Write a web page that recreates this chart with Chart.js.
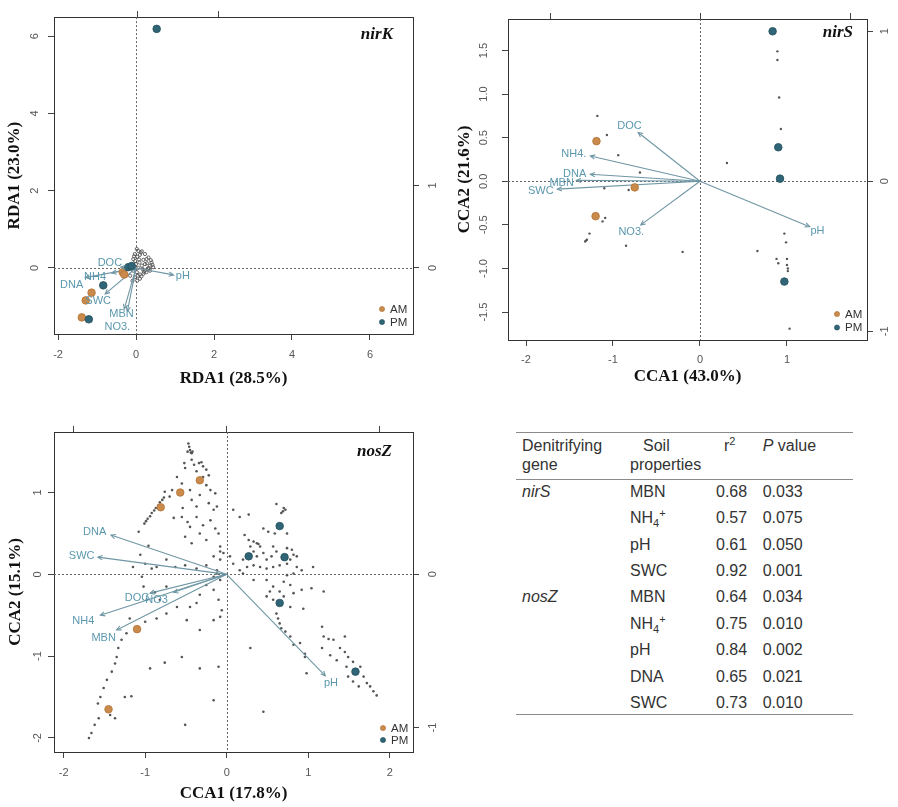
<!DOCTYPE html>
<html><head><meta charset="utf-8">
<script src="https://cdn.jsdelivr.net/npm/chart.js@4.4.0/dist/chart.umd.min.js"></script>
<style>
html,body{margin:0;padding:0;background:#fff;}
#wrap{position:relative;width:898px;height:807px;overflow:hidden;font-family:"Liberation Sans",Arial,sans-serif;background:#fff;}
canvas{position:absolute;}
.t{position:absolute;font-size:16px;line-height:20px;color:#333;white-space:nowrap;}
.t sub,.t sup{font-size:11px;line-height:0;}
.hl{position:absolute;left:516px;width:337px;height:0;border-top:1.5px solid #8a8a8a;}
</style></head>
<body><div id="wrap">
<canvas id="c1" width="450" height="400" style="left:0;top:0"></canvas>
<canvas id="c2" width="448" height="400" style="left:450px;top:0"></canvas>
<canvas id="c3" width="450" height="407" style="left:0;top:400px"></canvas>
<div id="tbl"></div>
</div>
<script>
// ---------------- nirK (RDA) ----------------
const nirK_species = [[-0.03,0.36],[0.06,0.44],[0.15,0.43],[0.23,0.36],[0.32,0.27],[0.40,0.14],[0.44,0.02],[0.36,-0.07],[0.27,-0.11],[0.19,-0.15],[0.10,-0.17],[0.02,-0.11],[-0.07,-0.07],[-0.11,0.10],[-0.07,0.23],[0.00,0.10],[0.09,0.14],[0.15,0.06],[0.23,0.10],[0.17,-0.03],[0.06,0.00],[-0.03,-0.24],[0.03,-0.33],[0.10,-0.28],[-0.09,-0.33],[-0.15,-0.20],[0.02,0.49],[0.27,0.23],[0.36,0.06],[0.19,0.21],[0.03,0.29],[0.10,0.34],[0.32,0.00],[0.23,-0.07],[0.42,0.08],[0.38,0.20],[0.12,0.40],[-0.05,0.30],[0.30,-0.02],[0.05,-0.20],[0.14,-0.22],[0.20,-0.10],[0.08,0.22],[0.28,0.12],[-0.02,0.18]];
const nirK_AM = [[-0.34,-0.11],[-0.30,-0.17],[-1.14,-0.64],[-1.29,-0.84],[-1.39,-1.28]];
const nirK_PM = [[0.53,6.19],[-0.20,0.02],[-0.11,0.05],[-0.84,-0.45],[-1.21,-1.33]];
const nirK_vars   = ['DOC','NH4','DNA','SWC','MBN','NO3.','pH'];
const nirK_arrowX = [-0.39,-0.62,-1.30,-0.79,-0.30,-0.22,0.96];
const nirK_arrowY = [0.02,-0.13,-0.25,-0.67,-1.06,-1.12,-0.18];
const nirK_labelX = [-0.67,-1.05,-1.65,-0.97,-0.37,-0.48,1.20];
const nirK_labelY = [0.14,-0.23,-0.44,-0.86,-1.18,-1.52,-0.20];
const nirK_xTicks = [-2,0,2,4,6];
const nirK_yTicks = [0,2,4,6];
const nirK_topTicks = [0,1];
const nirK_rightTicks = [0,1];

// ---------------- nirS (CCA) ----------------
const nirS_species = [[-1.18,0.75],[-1.07,0.53],[-0.94,0.30],[-0.69,0.10],[-1.10,-0.08],[-0.82,-0.10],[-1.12,-0.46],[-1.09,-0.42],[-1.27,-0.60],[-1.31,-0.68],[-1.32,-0.69],[-1.30,-0.67],[-0.85,-0.74],[-0.20,-0.81],[0.31,0.21],[0.89,1.49],[0.89,1.39],[0.91,0.96],[0.93,0.60],[0.95,0.03],[0.97,-0.60],[0.99,-0.70],[0.66,-0.80],[0.88,-0.89],[0.90,-0.94],[1.00,-0.89],[1.00,-0.96],[1.01,-1.00],[1.01,-1.03],[0.99,-1.14],[1.03,-1.69]];
const nirS_AM = [[-1.19,0.46],[-0.75,-0.07],[-1.20,-0.40]];
const nirS_PM = [[0.835,1.72],[0.90,0.39],[0.92,0.03],[0.97,-1.15]];
const nirS_vars   = ['DOC','NH4.','DNA','MBN','SWC','NO3.','pH'];
const nirS_arrowX = [-0.71,-1.26,-1.26,-1.42,-1.64,-0.68,1.26];
const nirS_arrowY = [0.56,0.29,0.08,0.01,-0.09,-0.50,-0.52];
const nirS_labelX = [-0.81,-1.45,-1.44,-1.59,-1.83,-0.79,1.35];
const nirS_labelY = [0.63,0.31,0.08,-0.02,-0.11,-0.58,-0.57];
const nirS_xTicks = [-2,-1,0,1];
const nirS_yTicks = [-1.5,-1.0,-0.5,0.0,0.5,1.0,1.5];
const nirS_topTicks = [-1,0,1];
const nirS_rightTicks = [-1,0,1];

// ---------------- nosZ (CCA) ----------------
const nosZ_species = [[-0.47,1.60],[-0.46,1.56],[-0.45,1.52],[-0.44,1.49],[-0.43,1.48],[-0.48,1.50],[-0.42,1.50],[-0.52,1.36],[-0.43,1.40],[-0.40,1.34],[-0.34,1.36],[-0.31,1.37],[-0.29,1.32],[-0.51,1.30],[-0.25,1.28],[-0.37,1.26],[-0.29,1.19],[-0.22,1.21],[-0.61,1.19],[-0.67,1.03],[-0.76,1.01],[-0.70,0.95],[-0.25,1.09],[-0.20,1.03],[-0.14,0.99],[-0.55,1.11],[-0.45,1.03],[-0.43,0.91],[-0.33,0.97],[-0.22,0.87],[-0.16,0.79],[-0.12,0.83],[-0.37,0.83],[-0.54,0.81],[-0.65,0.69],[-0.55,0.70],[-0.48,0.64],[-0.45,0.58],[-0.37,0.70],[-0.29,0.60],[-0.20,0.66],[-0.14,0.56],[-0.10,0.50],[-0.33,0.50],[-0.25,0.42],[-0.51,0.46],[-0.43,0.38],
[-0.77,0.94],[-0.79,0.91],[-0.82,0.88],[-0.84,0.84],[-0.87,0.81],[-0.89,0.78],[-0.92,0.75],[-0.94,0.71],[-0.97,0.68],[-0.99,0.65],[-1.01,0.62],
[-1.08,0.52],[-0.96,0.35],[-1.06,0.24],[-1.00,0.13],[-1.15,0.09],[-0.92,0.07],[-0.86,0.09],[-0.74,0.18],[-0.63,0.09],[-0.51,0.11],[-0.37,0.07],[-0.25,0.11],[-0.16,0.22],[-0.08,0.28],[-0.08,0.18],[-0.12,0.05],[-0.08,-0.07],[-0.16,-0.19],[-0.25,-0.13],[-0.33,-0.25],[-0.37,-0.35],[-0.45,-0.40],[-0.10,-0.31],[-0.06,-0.44],[-0.08,-0.52],[-0.16,-0.56],[-0.33,-0.68],[-0.49,-0.56],[-0.61,-0.40],[-0.74,-0.48],[-0.86,-0.54],[-0.98,-0.31],[-1.02,-0.15],[-1.04,-0.03],[-1.19,-0.54],[-1.23,-0.72],[-1.29,-0.80],[-1.33,-0.90],[-1.35,-1.01],[-1.37,-1.09],[-1.41,-1.19],[-1.47,-1.29],[-1.51,-1.39],[-1.55,-1.50],[-1.58,-1.58],[-1.57,-1.76],[-1.62,-1.84],[-1.66,-1.94],[-1.69,-2.00],[-1.43,-1.72],[-1.37,-1.76],[-1.25,-1.50],[-1.17,-1.49],[-0.94,-1.15],[-0.76,-1.08],[-0.55,-1.01],[-0.33,-1.15],[-0.10,-1.13],[-0.16,-1.54],[-0.51,-1.84],[-1.00,-0.58],[-0.82,-0.31],[-0.74,-0.15],[-0.88,-0.22],
[0.61,0.86],[0.69,0.77],[0.72,0.79],[0.70,0.81],[0.67,0.75],[0.16,0.70],[0.27,0.73],[0.45,0.56],[0.51,0.52],[0.59,0.50],[0.74,0.50],[0.08,0.79],[0.22,0.48],[0.27,0.42],[0.33,0.40],[0.37,0.38],[0.41,0.34],[0.29,0.34],[0.33,0.28],[0.37,0.22],[0.45,0.26],[0.49,0.18],[0.55,0.22],[0.61,0.28],[0.57,0.34],[0.74,0.32],[0.80,0.30],[0.82,0.24],[0.86,0.22],[0.78,0.18],[0.74,0.13],[0.65,0.11],[0.57,0.09],[0.49,0.07],[0.41,0.09],[0.33,0.11],[0.25,0.09],[0.16,0.05],[0.08,0.13],[0.04,0.22],[-0.04,0.26],[-0.08,0.34],[0.20,0.18],[0.86,0.09],[0.92,0.05],[1.06,0.09],[0.82,0.01],[0.74,-0.01],[0.20,0.01],[0.33,-0.07],[0.49,-0.07],[0.57,-0.15],[0.70,-0.09],[0.78,-0.13],[0.65,-0.21],[0.53,-0.21],[0.49,-0.27],[0.57,-0.31],[0.70,-0.27],[0.82,-0.23],[0.92,-0.19],[1.04,-0.17],[1.19,-0.21],[0.78,-0.40],[0.94,-0.42],[0.61,-0.48],[0.63,-0.54],[0.65,-0.60],[0.67,-0.66],[0.72,-0.70],[0.78,-0.76],[0.82,-0.86],[0.90,-0.84],[0.96,-0.97],[1.17,-0.64],[1.19,-0.76],[1.25,-0.79],[1.31,-0.80],[1.45,-0.76],[1.39,-0.90],[1.45,-0.95],[1.49,-1.01],[1.55,-1.07],[1.64,-1.13],[1.68,-1.25],[1.72,-1.33],[1.76,-1.37],[1.80,-1.43],[1.84,-1.48],[1.17,-0.90],[1.27,-0.99],[1.35,-1.05],[1.47,-1.13],[1.49,-1.25],[1.55,-1.31],[1.62,-1.37],[0.98,-1.21],[0.96,-1.01],[0.29,-0.90],[0.45,-1.68],[0.39,0.37],[-0.16,-0.03],[-0.12,0.01]];
const nosZ_AM = [[-0.33,1.15],[-0.57,1.00],[-0.81,0.82],[-1.10,-0.67],[-1.45,-1.65]];
const nosZ_PM = [[0.65,0.59],[0.27,0.22],[0.71,0.21],[0.65,-0.35],[1.58,-1.19]];
const nosZ_vars   = ['DNA','SWC','DOC','NO3','NH4','MBN','pH'];
const nosZ_arrowX = [-1.42,-1.58,-0.94,-0.65,-1.55,-1.35,1.21];
const nosZ_arrowY = [0.48,0.21,-0.23,-0.22,-0.50,-0.68,-1.24];
const nosZ_labelX = [-1.62,-1.78,-1.10,-0.86,-1.76,-1.51,1.28];
const nosZ_labelY = [0.52,0.22,-0.29,-0.31,-0.57,-0.78,-1.33];
const nosZ_xTicks = [-2,-1,0,1,2];
const nosZ_yTicks = [-2,-1,0,1];
const nosZ_topTicks = [-1,0,1];
const nosZ_rightTicks = [-1,0];

// ---------------- table ----------------
const tableHeader = ['Denitrifying gene','Soil properties','r2','P value'];
const tableGene = ['nirS','','','','nosZ','','','',''];
const tableProp = ['MBN','NH4+','pH','SWC','MBN','NH4+','pH','DNA','SWC'];
const tableR2   = ['0.68','0.57','0.61','0.92','0.64','0.75','0.84','0.65','0.73'];
const tableP    = ['0.033','0.075','0.050','0.001','0.034','0.010','0.002','0.021','0.010'];

// ---------------- styles ----------------
const SANS = '"Liberation Sans", Arial, sans-serif';
const SERIF = '"Liberation Serif", "Times New Roman", serif';
const AM_FILL = '#c98a4c', AM_LINE = '#b27437';
const PM_FILL = '#2f6577', PM_LINE = '#24505e';
const ARROW = '#6f96a4', LABEL = '#5b98ae';
Chart.defaults.font.family = SANS;

const toPts = a => a.map(p => ({x:p[0], y:p[1]}));

function panel(id, o) {
  const canvas = document.getElementById(id);
  const W = canvas.width, H = canvas.height, b = o.box;
  const tickFont = {family:SANS, size:11};
  const titleFont = {family:SERIF, size:17, weight:'bold'};
  const grid = {display:true, drawOnChartArea:false, drawTicks:true, tickLength:6, tickColor:'#444', color:'#444'};
  const border = {display:true, color:'#333', width:1};
  const setTicks = arr => s => { s.ticks = arr.map(v => ({value:v})); };
  const fmt = o.yFmt || (v => String(v));

  const datasets = [];
  datasets.push({label:'species', data:toPts(o.species), xAxisID:'x', yAxisID:'y', order:3,
    pointRadius:o.spRadius, pointBackgroundColor:o.spFill, pointBorderColor:'#555', pointBorderWidth:o.spBorder});
  o.arrowX.forEach((ax, i) => {
    datasets.push({label:o.vars[i], data:[{x:0,y:0},{x:ax,y:o.arrowY[i]}], xAxisID:'x', yAxisID:'y', order:2,
      showLine:true, borderColor:ARROW, borderWidth:1.1, pointRadius:0, fill:false});
  });
  datasets.push({label:'AM', data:toPts(o.am), xAxisID:'x', yAxisID:'y', order:1,
    pointRadius:3.8, pointBackgroundColor:AM_FILL, pointBorderColor:AM_LINE, pointBorderWidth:0.8});
  datasets.push({label:'PM', data:toPts(o.pm), xAxisID:'x', yAxisID:'y', order:0,
    pointRadius:3.8, pointBackgroundColor:PM_FILL, pointBorderColor:PM_LINE, pointBorderWidth:0.8});

  const deco = {
    id:'deco_' + id,
    beforeDatasetsDraw(chart) {
      const {ctx, chartArea:a, scales:{x, y}} = chart;
      ctx.save();
      ctx.strokeStyle = '#666'; ctx.lineWidth = 1; ctx.setLineDash([2,2]);
      const px = Math.round(x.getPixelForValue(0)) + 0.5, py = Math.round(y.getPixelForValue(0)) + 0.5;
      ctx.beginPath(); ctx.moveTo(px, a.top); ctx.lineTo(px, a.bottom);
      ctx.moveTo(a.left, py); ctx.lineTo(a.right, py); ctx.stroke();
      ctx.restore();
    },
    afterDatasetsDraw(chart) {
      const {ctx, chartArea:a, scales:{x, y}} = chart;
      ctx.save();
      const x0 = x.getPixelForValue(0), y0 = y.getPixelForValue(0);
      ctx.strokeStyle = ARROW; ctx.lineWidth = 1.1;
      o.arrowX.forEach((ax, i) => {
        const x1 = x.getPixelForValue(ax), y1 = y.getPixelForValue(o.arrowY[i]);
        const ang = Math.atan2(y1 - y0, x1 - x0), L = 5, A = Math.PI / 7;
        ctx.beginPath();
        ctx.moveTo(x1 - L * Math.cos(ang - A), y1 - L * Math.sin(ang - A));
        ctx.lineTo(x1, y1);
        ctx.lineTo(x1 - L * Math.cos(ang + A), y1 - L * Math.sin(ang + A));
        ctx.stroke();
      });
      ctx.fillStyle = LABEL; ctx.font = '11px ' + SANS; ctx.textAlign = 'center'; ctx.textBaseline = 'middle';
      o.vars.forEach((v, i) => {
        ctx.fillText(v, x.getPixelForValue(o.labelX[i]), y.getPixelForValue(o.labelY[i]));
      });
      // panel title
      ctx.fillStyle = '#111'; ctx.font = 'italic bold 17px ' + SERIF; ctx.textAlign = 'right';
      ctx.fillText(o.name, a.right - o.nameDx, a.top + o.nameDy);
      // legend
      const lx = a.right - o.legDx;
      [['AM', AM_FILL, AM_LINE, o.legDy1], ['PM', PM_FILL, PM_LINE, o.legDy2]].forEach(([t, f, l, dy]) => {
        const ly = a.bottom - dy;
        ctx.beginPath(); ctx.arc(lx, ly, 2.6, 0, Math.PI * 2);
        ctx.fillStyle = f; ctx.fill(); ctx.strokeStyle = l; ctx.lineWidth = 0.6; ctx.stroke();
        ctx.fillStyle = '#333'; ctx.font = '11.5px ' + SANS; ctx.textAlign = 'left'; ctx.textBaseline = 'middle';
        ctx.fillText(t, lx + 8, ly + 0.5);
      });
      ctx.restore();
    }
  };

  new Chart(canvas, {
    type:'scatter',
    data:{datasets},
    options:{
      responsive:false, animation:false, events:[], devicePixelRatio:1,
      layout:{padding:0},
      plugins:{legend:{display:false}, tooltip:{enabled:false}},
      scales:{
        x:{type:'linear', position:'bottom', min:o.xMin, max:o.xMax, grid, border,
           afterBuildTicks:setTicks(o.xTicks), afterFit:s => { s.height = H - b.b; },
           ticks:{font:tickFont, color:'#555', padding:o.xPad, autoSkip:false, minRotation:0, maxRotation:0, callback:v => String(v)},
           title:{display:true, text:o.xTitle, font:titleFont, color:'#111', padding:{top:0, bottom:o.xTitlePad}}},
        x2:{type:'linear', position:'top', min:o.tMin, max:o.tMax, grid, border,
           afterBuildTicks:setTicks(o.topTicks), afterFit:s => { s.height = b.t; },
           ticks:{display:false}},
        y:{type:'linear', position:'left', min:o.yMin, max:o.yMax, grid, border,
           afterBuildTicks:setTicks(o.yTicks), afterFit:s => { s.width = b.l; },
           ticks:{font:tickFont, color:'#555', padding:o.yPad, autoSkip:false, minRotation:90, maxRotation:90, crossAlign:'center', callback:fmt},
           title:{display:true, text:o.yTitle, font:titleFont, color:'#111', padding:{top:o.yTitlePad, bottom:0}}},
        y2:{type:'linear', position:'right', min:o.rMin, max:o.rMax, grid, border,
           afterBuildTicks:setTicks(o.rightTicks), afterFit:s => { s.width = W - b.r; },
           ticks:{font:tickFont, color:'#555', padding:o.rPad, autoSkip:false, minRotation:90, maxRotation:90, crossAlign:'center', callback:v => String(v)}}
      }
    },
    plugins:[deco]
  });
}

panel('c1', {
  name:'nirK', box:{l:54, t:14, r:413, b:334},
  species:nirK_species, spRadius:1.6, spFill:'rgba(0,0,0,0)', spBorder:0.9,
  am:nirK_AM, pm:nirK_PM, vars:nirK_vars, arrowX:nirK_arrowX, arrowY:nirK_arrowY, labelX:nirK_labelX, labelY:nirK_labelY,
  xMin:-2.103, xMax:7.103, yMin:-1.710, yMax:6.495, tMin:-1.025, tMax:3.407, rMin:-0.801, rMax:3.041,
  xTicks:nirK_xTicks, yTicks:nirK_yTicks, topTicks:nirK_topTicks, rightTicks:nirK_rightTicks,
  xTitle:'RDA1 (28.5%)', yTitle:'RDA1 (23.0%)', xPad:8, yPad:10, rPad:10.5, xTitlePad:11.5, yTitlePad:4.8,
  nameDx:20, nameDy:18, legDx:31, legDy1:25, legDy2:12
});

panel('c2', {
  name:'nirS', box:{l:58, t:19, r:417, b:340},
  species:nirS_species, spRadius:1.2, spFill:'#555', spBorder:0,
  am:nirS_AM, pm:nirS_PM, vars:nirS_vars, arrowX:nirS_arrowX, arrowY:nirS_arrowY, labelX:nirS_labelX, labelY:nirS_labelY,
  xMin:-2.207, xMax:1.920, yMin:-1.820, yMax:1.861, tMin:-1.28, tMax:1.113, rMin:-1.058, rMax:1.082,
  xTicks:nirS_xTicks, yTicks:nirS_yTicks, topTicks:nirS_topTicks, rightTicks:nirS_rightTicks,
  yFmt:v => v.toFixed(1),
  xTitle:'CCA1 (43.0%)', yTitle:'CCA2 (21.6%)', xPad:7.3, yPad:8.5, rPad:7.4, xTitlePad:13, yTitlePad:4.8,
  nameDx:14, nameDy:14, legDx:30, legDy1:26, legDy2:12.5
});

panel('c3', {
  name:'nosZ', box:{l:54, t:32, r:413, b:352},
  species:nosZ_species, spRadius:1.3, spFill:'#555', spBorder:0,
  am:nosZ_AM, pm:nosZ_PM, vars:nosZ_vars, arrowX:nosZ_arrowX, arrowY:nosZ_arrowY, labelX:nosZ_labelX, labelY:nosZ_labelY,
  xMin:-2.119, xMax:2.286, yMin:-2.172, yMax:1.740, tMin:-1.129, tMax:1.218, rMin:-1.159, rMax:0.928,
  xTicks:nosZ_xTicks, yTicks:nosZ_yTicks, topTicks:nosZ_topTicks, rightTicks:nosZ_rightTicks,
  xTitle:'CCA1 (17.8%)', yTitle:'CCA2 (15.1%)', xPad:8, yPad:5.6, rPad:9.4, xTitlePad:3.5, yTitlePad:5.8,
  nameDx:21, nameDy:20, legDx:30, legDy1:24, legDy2:12
});

// ---------------- table (HTML) ----------------
(function buildTable() {
  const tbl = document.getElementById('tbl');
  const add = (html, left, cy) => {
    const d = document.createElement('div');
    d.className = 't'; d.innerHTML = html;
    d.style.left = left + 'px'; d.style.top = (cy - 10) + 'px';
    tbl.appendChild(d);
  };
  const line = top => { const d = document.createElement('div'); d.className = 'hl'; d.style.top = top + 'px'; tbl.appendChild(d); };
  const propHtml = p => p === 'NH4+' ? 'NH<sub>4</sub><sup>+</sup>' : p;
  line(432); line(478.5); line(713.5);
  const h1 = tableHeader[0].split(' '), h2 = tableHeader[1].split(' ');
  add(h1[0], 522, 446); add(h1[1], 522, 465);
  add(h2[0], 643, 446); add(h2[1], 630, 465);
  add('r<sup>2</sup>', 724, 446);
  add('<i>P</i> ' + tableHeader[3].split(' ')[1], 762.7, 446);
  tableProp.forEach((p, i) => {
    const cy = 491.7 + i * 26.4;
    if (tableGene[i]) add('<i>' + tableGene[i] + '</i>', 522, cy);
    add(propHtml(p), 630, cy);
    add(tableR2[i], 716, cy);
    add(tableP[i], 762.7, cy);
  });
})();
</script>
</body></html>
